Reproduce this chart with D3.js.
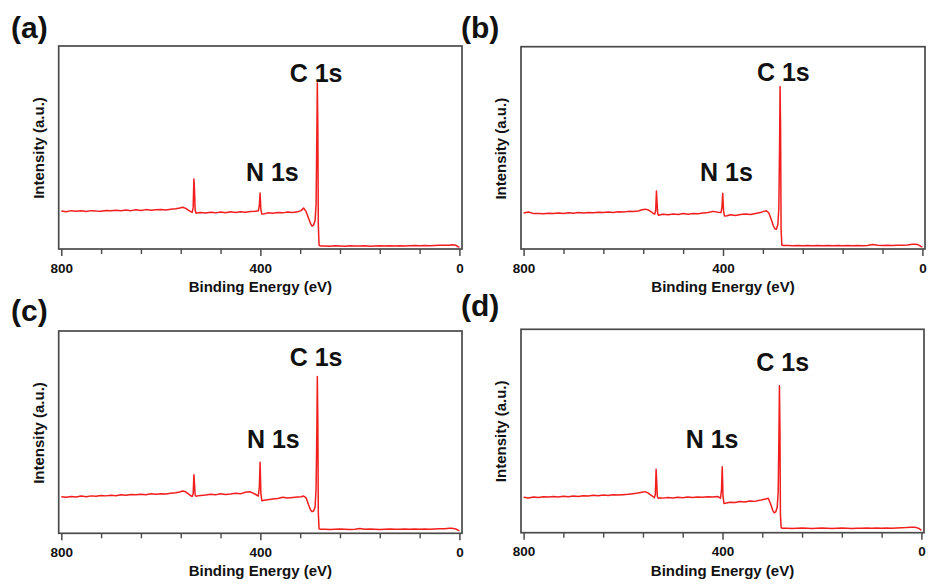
<!DOCTYPE html>
<html>
<head>
<meta charset="utf-8">
<script src="https://cdn.jsdelivr.net/npm/d3@7"></script>
<style>
  body { margin: 0; background: #fff; }
  text { font-family: "Liberation Sans", Arial, sans-serif; font-weight: bold; fill: #111; }
</style>
</head>
<body>
<svg id="chart" width="929" height="585"></svg>
<script>
// -----
// XPS survey spectra, four samples
// -----

// binding energy grid (eV), shared by all four spectra
const energy = [
  800, 790, 780, 770, 760, 750, 740, 730, 720, 710,
  700, 690, 680, 670, 660, 650, 640, 630, 620, 610,
  600, 590, 580, 570, 562, 556, 550, 544,
  540, 537, 535, 533.5, 532.5, 531, 529, 526,
  520, 510, 500, 490, 480, 470, 460, 450, 440, 430, 420, 410,
  404, 402, 400.5, 399, 397,
  392, 385, 375, 365, 355, 345, 335,
  325, 318, 313, 308, 303, 299, 296, 293,
  290, 288, 286.5, 285.5, 284.5, 283.5, 282, 279,
  270, 260, 250, 240, 230, 220, 210, 200, 190, 180, 170, 160, 150, 140, 130,
  120, 110, 100, 90, 80, 70, 60, 50, 40, 30, 20, 15, 10, 6, 3, 0
];

// intensity (a.u.)
const intensityA = [
  18.7, 18.4, 18.9, 18.6, 18.8, 18.5, 18.9, 18.7, 18.6, 19.0,
  18.8, 19.1, 18.8, 19.2, 18.9, 19.3, 19.0, 19.4, 19.1, 19.3,
  19.5, 19.2, 19.6, 19.8, 20.2, 20.6, 20.0, 19.0,
  18.4, 18.0, 20.5, 34.5, 30.0, 19.0, 17.6, 17.8,
  18.0, 17.7, 18.1, 17.8, 18.2, 17.9, 18.3, 18.0, 18.4, 18.1, 18.5, 18.6,
  18.8, 21.5, 27.6, 19.5, 17.2,
  17.4, 17.8, 17.6, 18.0, 17.8, 18.2, 18.0,
  18.3, 18.9, 20.2, 18.4, 15.0, 12.5, 11.3, 11.8,
  14.0, 22.0, 55.0, 81.8, 60.0, 12.0, 1.8, 1.5,
  1.5, 1.4, 1.6, 1.5, 1.4, 1.6, 1.5, 1.5, 1.6, 1.4, 1.5, 1.6, 1.5, 1.6, 1.5,
  1.6, 1.5, 1.6, 1.7, 1.6, 1.7, 1.6, 1.7, 1.8, 1.8, 1.9, 2.1, 2.0, 1.7, 1.2, 0.8
];

const intensityB = [
  17.8, 18.3, 17.5, 17.6, 17.4, 17.7, 17.5, 17.8, 17.6, 17.9,
  17.7, 18.0, 17.8, 18.1, 17.9, 18.2, 18.0, 18.3, 18.1, 18.4,
  18.3, 18.6, 18.5, 18.8, 19.4, 19.7, 19.3, 18.4,
  17.6, 17.2, 19.0, 28.7, 24.0, 17.5, 16.6, 16.9,
  17.2, 16.9, 17.3, 17.1, 17.5, 17.2, 17.6, 17.4, 17.8, 18.0, 18.6, 18.2,
  18.0, 21.0, 27.6, 19.0, 16.3,
  16.4, 16.9, 16.6, 17.0, 17.3, 17.1, 17.6,
  18.0, 18.6, 18.9, 17.8, 14.5, 11.5, 10.0, 9.8,
  12.0, 20.0, 52.0, 80.3, 60.0, 10.0, 2.0, 1.7,
  1.7, 1.6, 1.7, 1.6, 1.7, 1.6, 1.7, 1.6, 1.7, 1.6, 1.7, 1.6, 1.7, 1.6, 1.7,
  1.6, 1.7, 2.2, 1.8, 1.7, 1.8, 1.7, 1.8, 1.9, 2.0, 2.3, 2.4, 2.2, 1.8, 1.3, 0.9
];

const intensityC = [
  18.1, 17.8, 18.2, 18.0, 18.4, 18.1, 18.5, 18.3, 18.7, 18.5,
  18.8, 18.6, 19.0, 18.8, 19.2, 19.0, 19.3, 19.1, 19.5, 19.3,
  19.6, 19.4, 19.8, 20.0, 20.4, 20.9, 20.5, 19.4,
  18.6, 18.2, 19.5, 28.9, 25.0, 18.8, 18.3, 18.5,
  18.7, 18.9, 19.3, 19.0, 19.6, 19.2, 19.4, 19.8, 19.5, 20.3, 20.5, 19.3,
  18.4, 23.0, 35.1, 20.0, 16.1,
  16.3, 16.6, 16.9, 17.2, 17.8, 17.4, 17.7,
  18.0, 18.1, 18.4, 17.5, 14.0, 11.5, 10.7, 11.0,
  13.0, 22.0, 50.0, 77.5, 55.0, 10.0, 2.2, 2.0,
  2.0, 1.9, 2.0, 2.1, 2.0, 1.9, 2.0, 2.4, 2.0, 2.1, 2.0, 1.9, 2.0, 2.1, 2.0,
  2.0, 2.1, 2.0, 2.1, 2.0, 2.1, 2.0, 2.1, 2.2, 2.3, 2.5, 2.5, 2.3, 2.0, 1.6, 1.2
];

const intensityD = [
  17.4, 17.1, 17.6, 17.3, 17.7, 17.5, 17.8, 17.6, 17.9, 17.7,
  18.0, 17.8, 18.2, 18.0, 18.4, 18.2, 18.5, 18.3, 18.6, 18.5,
  18.7, 18.9, 19.2, 19.5, 19.9, 20.2, 19.6, 18.5,
  17.8, 17.2, 19.0, 31.2, 26.0, 17.8, 16.9, 17.1,
  17.0, 17.3, 17.1, 17.4, 17.2, 17.5, 17.3, 17.6, 17.4, 17.7, 17.5, 17.8,
  17.0, 21.0, 32.4, 18.0, 14.4,
  14.6, 15.0, 14.8, 15.3, 15.1, 15.6, 15.4,
  15.9, 16.3, 16.6, 16.9, 14.0, 11.0, 9.8, 10.2,
  12.5, 20.0, 48.0, 72.3, 52.0, 9.0, 2.4, 2.2,
  2.2, 2.1, 2.2, 2.3, 2.2, 2.1, 2.2, 2.3, 2.2, 2.1, 2.2, 2.3, 2.2, 2.1, 2.2,
  2.2, 2.3, 2.2, 2.3, 2.2, 2.3, 2.2, 2.3, 2.4, 2.5, 2.7, 2.7, 2.5, 2.2, 1.7, 1.2
];

const panelNames = ["(a)", "(b)", "(c)", "(d)"];
const series = [intensityA, intensityB, intensityC, intensityD];
const majorTicks = [800, 400, 0];
const minorTicks = [720, 640, 560, 480, 320, 240, 160, 80];
const peakNames = ["C 1s", "N 1s"];

// peak label anchors in data units [energy, intensity] per panel
const cLabelAt = [[288, 82.5], [279, 82.8], [288, 82.7], [279, 79.4]];
const nLabelAt = [[376, 33.7], [393, 33.4], [374, 42.0], [421, 41.4]];

// layout
const frames = [
    { x: 58.7, y: 46,    w: 403.3, h: 203,   lx: 11,  ly: 38 },
    { x: 521,  y: 46.7,  w: 404,   h: 202.3, lx: 461, ly: 38 },
    { x: 58.7, y: 331,   w: 403.3, h: 202.3, lx: 11,  ly: 321 },
    { x: 521,  y: 329.3, w: 403,   h: 203.4, lx: 461, ly: 316 }
];
const lineColor = "#f21d1d";
const frameColor = "#4a4a4a";

const svg = d3.select("#chart");

series.forEach((values, i) => {
    const f = frames[i];
    const g = svg.append("g").attr("class", "panel");

    const xScale = d3.scaleLinear().domain([800, 0]).range([f.x + 2.6, f.x + f.w - 2.6]);
    const yScale = d3.scaleLinear().domain([0, 100]).range([f.y + f.h, f.y]);

    // frame
    g.append("rect")
        .attr("x", f.x).attr("y", f.y)
        .attr("width", f.w).attr("height", f.h)
        .attr("fill", "none")
        .attr("stroke", frameColor)
        .attr("stroke-width", 1.7);

    // bottom axis: major ticks with labels, minor without
    const axis = d3.axisBottom(xScale)
        .tickValues(majorTicks)
        .tickSize(7)
        .tickSizeOuter(0)
        .tickPadding(7);
    const ax = g.append("g")
        .attr("transform", `translate(0,${f.y + f.h})`)
        .call(axis);
    ax.select(".domain").remove();
    ax.selectAll(".tick line").attr("stroke", frameColor).attr("stroke-width", 1.5);
    ax.selectAll(".tick text")
        .attr("font-size", 13.5)
        .attr("font-family", "Liberation Sans, Arial, sans-serif")
        .attr("font-weight", "bold")
        .attr("fill", "#111");

    const minorAxis = d3.axisBottom(xScale)
        .tickValues(minorTicks)
        .tickSize(5)
        .tickSizeOuter(0)
        .tickFormat("");
    const mx = g.append("g")
        .attr("transform", `translate(0,${f.y + f.h})`)
        .call(minorAxis);
    mx.select(".domain").remove();
    mx.selectAll(".tick line").attr("stroke", frameColor).attr("stroke-width", 1.4);

    // axis titles
    g.append("text")
        .attr("x", (f.x + f.x + f.w) / 2)
        .attr("y", f.y + f.h + 43)
        .attr("text-anchor", "middle")
        .attr("font-size", 15)
        .text("Binding Energy (eV)");

    g.append("text")
        .attr("transform", `translate(${f.x - 15},${f.y + 102}) rotate(-90)`)
        .attr("text-anchor", "middle")
        .attr("font-size", 15)
        .text("Intensity (a.u.)");

    // spectrum
    const line = d3.line()
        .x(d => xScale(d[0]))
        .y(d => yScale(d[1]));
    g.append("path")
        .datum(energy.map((e, k) => [e, values[k]]))
        .attr("d", line)
        .attr("fill", "none")
        .attr("stroke", lineColor)
        .attr("stroke-width", 1.5)
        .attr("stroke-linejoin", "round");

    // peak labels
    g.append("text")
        .attr("x", xScale(cLabelAt[i][0]))
        .attr("y", yScale(cLabelAt[i][1]))
        .attr("text-anchor", "middle")
        .attr("font-size", 25)
        .text(peakNames[0]);
    g.append("text")
        .attr("x", xScale(nLabelAt[i][0]))
        .attr("y", yScale(nLabelAt[i][1]))
        .attr("text-anchor", "middle")
        .attr("font-size", 25)
        .text(peakNames[1]);

    // panel letter
    g.append("text")
        .attr("x", f.lx)
        .attr("y", f.ly)
        .attr("font-size", 30)
        .text(panelNames[i]);
});
</script>
</body>
</html>
